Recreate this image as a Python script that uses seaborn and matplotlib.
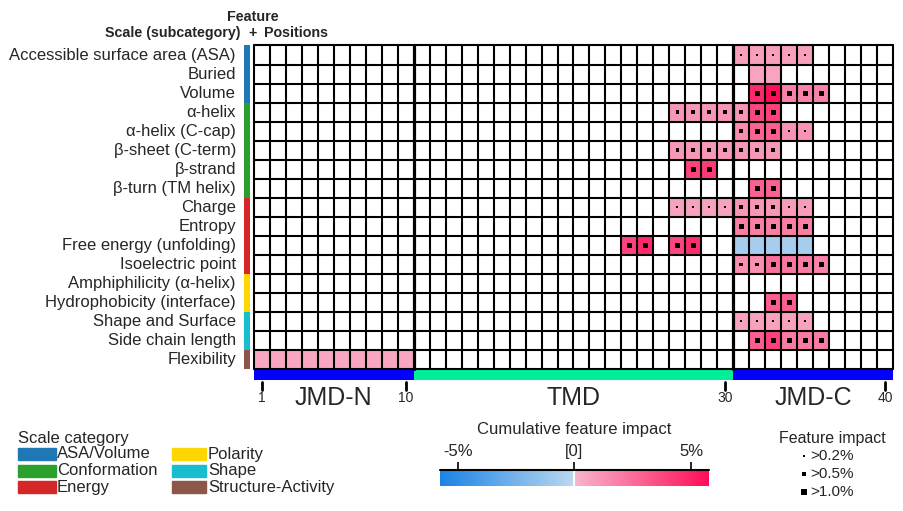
import numpy as np
import pandas as pd
import matplotlib.pyplot as plt
import seaborn as sns
from matplotlib.colors import LinearSegmentedColormap
from matplotlib.patches import Rectangle

# Scale subcategories (rows) and their scale category
features = ["Accessible surface area (ASA)", "Buried", "Volume", "α-helix", "α-helix (C-cap)",
            "β-sheet (C-term)", "β-strand", "β-turn (TM helix)", "Charge", "Entropy",
            "Free energy (unfolding)", "Isoelectric point", "Amphiphilicity (α-helix)",
            "Hydrophobicity (interface)", "Shape and Surface", "Side chain length", "Flexibility"]
category_names = ["ASA/Volume", "Conformation", "Energy", "Polarity", "Shape", "Structure-Activity"]
category_sizes = [3, 5, 4, 2, 2, 1]
category_colors = ["#1f77b4", "#2ca02c", "#d62728", "#ffd700", "#17becf", "#8c564b"]

# Positions (1..40) with a non-zero cumulative impact, per row
cell_pos = [
    [31, 32, 33, 34, 35],
    [32, 33],
    [32, 33, 34, 35, 36],
    [27, 28, 29, 30, 31, 32, 33],
    [31, 32, 33, 34, 35],
    [27, 28, 29, 30, 31, 32, 33],
    [28, 29],
    [32, 33],
    [27, 28, 29, 30, 31, 32, 33, 34, 35],
    [31, 32, 33, 34, 35],
    [24, 25, 27, 28, 31, 32, 33, 34, 35],
    [31, 32, 33, 34, 35, 36],
    [],
    [33, 34],
    [31, 32, 33, 34, 35],
    [32, 33, 34, 35, 36],
    [1, 2, 3, 4, 5, 6, 7, 8, 9, 10],
]
# Cumulative feature impact (%)
cell_val = [
    [0.8, 0.8, 0.8, 0.8, 0.8],
    [0.6, 0.6],
    [4.8, 5.77, 1.8, 1.8, 1.8],
    [1.1, 1.1, 1.1, 1.1, 1.1, 3.8, 4.0],
    [1.4, 2.8, 3.0, 1.2, 1.2],
    [1.0, 1.0, 1.0, 1.0, 1.0, 1.0, 1.0],
    [4.0, 4.2],
    [2.9, 2.9],
    [0.7, 0.7, 0.7, 0.7, 1.1, 1.1, 1.1, 0.9, 0.9],
    [1.9, 1.9, 1.9, 1.9, 1.9],
    [3.9, 4.8, 3.8, 4.6, -0.8, -0.8, -0.8, -0.8, -0.8],
    [1.3, 1.3, 2.4, 2.2, 2.0, 1.8],
    [],
    [3.0, 3.0],
    [0.7, 0.7, 0.7, 0.7, 0.7],
    [3.0, 4.0, 2.0, 2.0, 2.0],
    [0.5] * 10,
]
# Single feature impact tier: 0 none, 1 >0.2%, 2 >0.5%, 3 >1.0%
cell_dot = [
    [1, 1, 1, 1, 1],
    [0, 0],
    [3, 3, 3, 3, 3],
    [2, 2, 2, 2, 2, 3, 3],
    [2, 3, 3, 1, 1],
    [2, 2, 2, 2, 2, 2, 2],
    [3, 3],
    [3, 3],
    [1, 1, 1, 1, 2, 2, 2, 1, 1],
    [3, 3, 3, 3, 3],
    [3, 3, 3, 3, 0, 0, 0, 0, 0],
    [2, 2, 3, 3, 3, 3],
    [],
    [3, 3],
    [1, 1, 1, 1, 1],
    [3, 3, 3, 3, 3],
    [0] * 10,
]
parts = ["JMD-N", "TMD", "JMD-C"]
part_bounds = [(0, 10), (10, 30), (30, 40)]
part_colors = ["#0000ff", "#00f09a", "#0000ff"]
pos_ticks = [1, 10, 30, 40]
impact_labels = [">0.2%", ">0.5%", ">1.0%"]

n_pos = 40
mat = np.zeros((len(features), n_pos))
for i, (ps, vs) in enumerate(zip(cell_pos, cell_val)):
    for p, v in zip(ps, vs):
        mat[i, p - 1] = v
df = pd.DataFrame(mat, index=features, columns=range(1, n_pos + 1))
vmax = np.abs(mat).max()

sns.set_theme(style="white")
plt.rcParams["font.family"] = ["Liberation Sans", "DejaVu Sans"]

cmap = LinearSegmentedColormap.from_list(
    "cpp", [(0, "#1a83e5"), (0.499, "#bcd8f0"), (0.501, "#f7b6cc"), (1, "#ff0d57")])

W, H = 904, 511
fig = plt.figure(figsize=(W / 100, H / 100), dpi=100)


def fx(x):
    return x / W


def fy(y):
    return 1 - y / H


ax = fig.add_axes([fx(254), fy(369), fx(893 - 254), (369 - 45.5) / H])
sns.heatmap(df, mask=(df == 0), cmap=cmap, vmin=-vmax, vmax=vmax, cbar=False, ax=ax,
            xticklabels=False, yticklabels=features)
ax.set_facecolor("white")
ax.set_xlabel("")
ax.set_ylabel("")
ax.tick_params(axis="y", length=0, pad=13, labelsize=12, rotation=0)

# grid
for i in range(len(features) + 1):
    ax.axhline(i, color="black", lw=1.5, clip_on=False)
for j in range(n_pos + 1):
    ax.axvline(j, color="black", lw=2.3 if j in (10, 30) else 1.5, clip_on=False)

# impact markers
dot_sizes = {1: 2, 2: 7, 3: 13}
xs, ys, ss = [], [], []
for i, (ps, ds) in enumerate(zip(cell_pos, cell_dot)):
    for p, d in zip(ps, ds):
        if d:
            xs.append(p - 0.5)
            ys.append(i + 0.5)
            ss.append(dot_sizes[d])
ax.scatter(xs, ys, s=ss, marker="s", color="black", linewidths=0, zorder=5)

# scale category bar on the left
start = 0
for size, col in zip(category_sizes, category_colors):
    ax.add_patch(Rectangle((-0.65, start), 0.38, size, color=col, clip_on=False, lw=0))
    start += size

# sequence parts bar
for name, (a, b), col in zip(parts, part_bounds, part_colors):
    ax.add_patch(Rectangle((a, 17.03), b - a, 0.56, color=col, clip_on=False, lw=0))
    ax.text((a + b) / 2, 18.5, name, ha="center", va="center", fontsize=18, clip_on=False)
for t in pos_ticks:
    ax.plot([t - 0.5, t - 0.5], [17.68, 18.1], color="black", lw=2, clip_on=False)
    ax.text(t - 0.5, 18.55, str(t), ha="center", va="center", fontsize=10, clip_on=False)

# header
fig.text(fx(253), fy(17), "Feature", ha="center", va="center", fontsize=10.3, fontweight="bold")
fig.text(fx(241), fy(33), "Scale (subcategory)", ha="right", va="center", fontsize=10.3, fontweight="bold")
fig.text(fx(253), fy(33), "+", ha="center", va="center", fontsize=10.3, fontweight="bold")
fig.text(fx(264), fy(33), "Positions", ha="left", va="center", fontsize=10.3, fontweight="bold")

# scale category legend
fig.text(fx(18), fy(438), "Scale category", ha="left", va="center", fontsize=12)
for k, (name, col) in enumerate(zip(category_names, category_colors)):
    c, r = divmod(k, 3)
    x0 = 18 if c == 0 else 172
    yc = 454 + r * 16.5
    fig.patches.append(Rectangle((fx(x0), fy(yc + 6)), fx(38 if c == 0 else 34), 12 / H,
                                 color=col, transform=fig.transFigure, figure=fig))
    fig.text(fx(x0 + (39 if c == 0 else 36)), fy(yc), name, ha="left", va="center", fontsize=12)

# colorbar
cax = fig.add_axes([fx(440), fy(486), fx(709 - 440), 16 / H])
cb = fig.colorbar(ax.collections[0], cax=cax, orientation="horizontal")
cb.outline.set_visible(False)
cax.axvline(0, color="white", lw=1.5)
cax.axhline(1, color="black", lw=1.5, clip_on=False)
cax.xaxis.set_ticks_position("top")
cb.set_ticks([-5, 0, 5])
cb.set_ticklabels(["-5%", "[0]", "5%"])
cax.tick_params(axis="x", length=6, width=1.2, color="black", labelsize=12, pad=2)
fig.text(fx(574), fy(429), "Cumulative feature impact", ha="center", va="center", fontsize=12)

# feature impact legend
fig.text(fx(832), fy(438), "Feature impact", ha="center", va="center", fontsize=11.5)
for k, lab in enumerate(impact_labels):
    yc = 456 + k * 18
    fig.add_artist(plt.Line2D([fx(804)], [fy(yc)], marker="s", color="black", linestyle="none",
                              markersize=[1.6, 2.8, 4.0][k], markeredgewidth=0,
                              transform=fig.transFigure))
    fig.text(fx(810), fy(yc), lab, ha="left", va="center", fontsize=11)

fig.savefig("out.png", dpi=100)
